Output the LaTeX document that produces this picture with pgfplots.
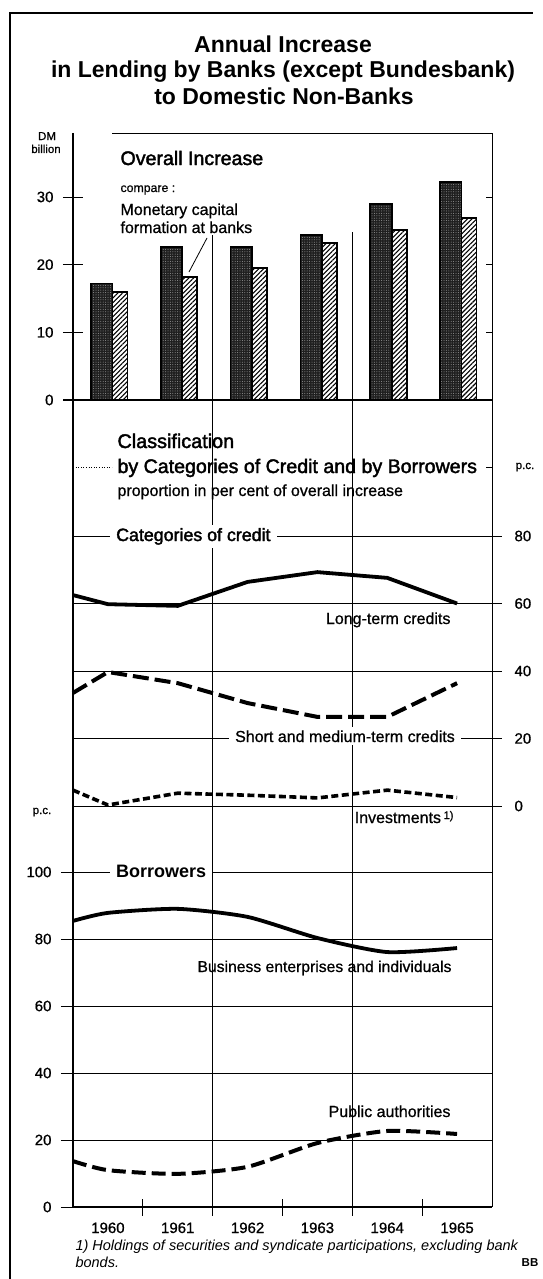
\documentclass[border=0pt]{standalone}
\usepackage{fontspec}
\setmainfont{Liberation Sans}
\newfontfamily\med{Liberation Sans}[FakeBold=0.8]
\newfontfamily\semi{Liberation Sans}[FakeBold=2.0]
\usepackage{pgfplots}
\pgfplotsset{compat=1.18}
\usetikzlibrary{patterns.meta}
\newcommand\fs[1]{\fontsize{#1}{#1}\selectfont}
\begin{document}
\begin{tikzpicture}[x=1pt,y=1pt]
\useasboundingbox (0,0) rectangle (543,-1279);
% outer border
\draw[line width=1.1pt] (10,-1279) -- (10,-13) -- (533,-13);
% title
\node[anchor=base, font=\fs{23}\bfseries] at (283,-53) {Annual Increase};
\node[anchor=base, font=\fs{23}\bfseries] at (283,-78) {in Lending by Banks (except Bundesbank)};
\node[anchor=base, font=\fs{23}\bfseries] at (284,-105) {to Domestic Non-Banks};

% ---------------- bars
\begin{axis}[
  at={(73pt,-400pt)}, anchor=south west, scale only axis,
  width=419pt, height=267pt,
  xmin=-0.5, xmax=5.5, ymin=0, ymax=39.45,
  axis line style={draw=none},
  xtick=\empty,
  ytick={0,10,20,30}, ytick pos=left, tick align=center,
  major tick length=20pt,
  y tick style={black, line width=0.8pt},
  yticklabel style={font=\med\fs{15}, xshift=-6pt},
  /pgf/number format/assume math mode=true,
  clip=false,
]
\addplot[ybar, bar width=15pt, bar shift=12pt, draw=black, line width=1.8pt,
  pattern={Lines[angle=45,distance=3.3pt,line width=1.1pt]}]
  coordinates {(0,16.0) (1,18.2) (2,19.5) (3,23.2) (4,25.1) (5,26.9)};
\addplot[ybar, bar width=21.5pt, bar shift=-6.25pt, draw=black, line width=1.8pt,
  fill=black!88, postaction={pattern={Dots[distance=2.4pt,radius=0.5pt]}, pattern color=black!40}]
  coordinates {(0,17.2) (1,22.6) (2,22.6) (3,24.4) (4,29.0) (5,32.2)};
\end{axis}

% ---------------- categories of credit
\begin{axis}[
  at={(73pt,-806pt)}, anchor=south west, scale only axis,
  width=419pt, height=406pt,
  xmin=-0.5, xmax=5.5, ymin=0, ymax=120.3,
  axis line style={draw=none}, xtick=\empty,
  ytick={0,20,40,60,80}, ytick pos=right, yticklabel pos=right,
  tick align=outside, major tick length=10pt,
  y tick style={black, line width=0.7pt},
  ymajorgrids, grid style={black, line width=0.6pt},
  yticklabel style={font=\med\fs{15}, xshift=9pt},
  /pgf/number format/assume math mode=true,
  clip=false,
]
\addplot[line width=3.8pt] coordinates {(-0.5,62.5) (0,59.8) (1,59.3) (2,66.4) (3,69.3) (4,67.6) (5,60.0)};
\addplot[line width=4pt, dash pattern=on 16pt off 6pt] coordinates {(-0.5,33.5) (0,39.7) (1,36.4) (2,30.5) (3,26.4) (4,26.4) (5,36.4)};
\addplot[line width=3.6pt, dash pattern=on 7pt off 3.5pt] coordinates {(-0.5,4.7) (0,0.3) (1,3.8) (2,3.2) (3,2.4) (4,4.7) (5,2.5)};
\end{axis}

% ---------------- borrowers
\begin{axis}[
  at={(73pt,-1207pt)}, anchor=south west, scale only axis,
  width=419pt, height=401pt,
  xmin=-0.5, xmax=5.5, ymin=0, ymax=119.7,
  axis line style={draw=none},
  xtick={0,...,5}, xticklabels={1960,1961,1962,1963,1964,1965},
  x tick style={draw=none}, xtick pos=bottom,
  xticklabel style={font=\med\fs{15}},
  ytick={0,20,40,60,80,100}, ytick pos=left,
  tick align=outside, major tick length=12pt,
  y tick style={black, line width=0.7pt},
  ymajorgrids, grid style={black, line width=0.6pt},
  yticklabel style={font=\med\fs{15}, xshift=-6pt},
  /pgf/number format/assume math mode=true,
  clip=false,
]
\addplot[line width=3.8pt, smooth, tension=0.4] coordinates {(-0.5,85.4) (0,87.8) (1,89.0) (2,86.6) (3,80.3) (4,76.1) (5,77.3)};
\addplot[line width=4pt, smooth, tension=0.4, dash pattern=on 14pt off 6pt] coordinates {(-0.5,13.7) (0,11.0) (1,9.9) (2,12.0) (3,19.1) (4,22.7) (5,21.8)};
\end{axis}

% ---------------- frame
\draw[line width=1.3pt] (73,-133) -- (73,-1207);
\draw[line width=0.6pt] (112,-133) -- (492,-133) -- (492,-1207);
\draw[line width=1.6pt] (63,-400) -- (492,-400);
\draw[line width=1.2pt] (73,-1207) -- (492,-1207);
\draw[line width=0.7pt] (212.7,-235) -- (212.7,-1216);
\draw[line width=0.7pt] (352.3,-232) -- (352.3,-1216);
\foreach \xx in {142.8,282.5,422.2} \draw[line width=0.7pt] (\xx,-1199) -- (\xx,-1216);
\foreach \yy in {332.3,264.6,196.9} \draw[line width=0.7pt] (486,-\yy) -- (492,-\yy);
\draw[line width=0.6pt, dotted] (73,-467) -- (112,-467);
\draw[line width=0.6pt] (486,-467) -- (492,-467);
\draw[line width=0.8pt] (207,-238) -- (189,-272);

% ---------------- texts
\node[anchor=base, font=\med\fs{11.5}, align=center] at (47,-140) {DM};
\node[anchor=base, font=\med\fs{11.5}, align=center] at (46,-153) {billion};
\node[anchor=base west, font=\semi\fs{19.6}] at (117,-165) {Overall Increase};
\node[anchor=base west, font=\med\fs{12.3}] at (117,-192) {compare :};
\node[anchor=base west, font=\med\fs{16}] at (117,-215) {Monetary capital};
\node[anchor=base west, font=\med\fs{16}] at (117,-233) {formation at banks};

\node[anchor=base west, font=\semi\fs{19.8}] at (114,-448) {Classification};
\node[anchor=base west, font=\semi\fs{19.6}] at (114,-473) {by Categories of Credit and by Borrowers};
\node[anchor=base west, font=\med\fs{16}] at (114,-496) {proportion in per cent of overall increase};
\node[anchor=base, font=\med\fs{11.5}] at (525,-469) {p.c.};
\node[anchor=base west, font=\semi\fs{17.8}, fill=white, inner xsep=6pt] at (110,-541) {Categories of credit};
\node[anchor=base east, font=\med\fs{16}] at (454,-624) {Long-term credits};
\node[anchor=base east, font=\med\fs{16}, fill=white, inner xsep=6pt] at (461,-742) {Short and medium-term credits};
\node[anchor=base east, font=\med\fs{16}] at (457,-823) {Investments\,\raisebox{4pt}{\fs{11}1)}};
\node[anchor=base, font=\med\fs{11.5}] at (42,-814) {p.c.};

\node[anchor=base west, font=\fs{18}\bfseries, fill=white, inner xsep=6pt] at (110,-877) {Borrowers};
\node[anchor=base east, font=\med\fs{15.7}] at (455,-972) {Business enterprises and individuals};
\node[anchor=base east, font=\med\fs{16}] at (454,-1117) {Public authorities};

\node[anchor=base west, font=\fs{14.5}\itshape] at (72,-1250) {1) Holdings of securities and syndicate participations, excluding bank};
\node[anchor=base west, font=\fs{14.5}\itshape] at (72,-1267) {bonds.};
\node[anchor=base, font=\fs{11.5}\bfseries] at (530,-1266) {BB};
\end{tikzpicture}
\end{document}
